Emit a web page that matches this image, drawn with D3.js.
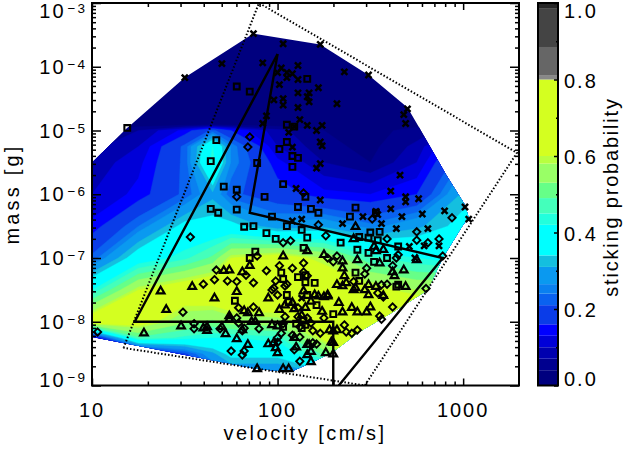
<!DOCTYPE html>
<html>
<head>
<meta charset="utf-8">
<script src="https://cdnjs.cloudflare.com/ajax/libs/d3/7.8.5/d3.min.js"></script>
<style>
body { margin:0; background:#fff; }
svg { display:block; }
text { font-family:"Liberation Sans", sans-serif; font-size:20px; letter-spacing:2px; fill:#000; }
</style>
</head>
<body>
<div id="chart-area"></div>
<script>
// all points are [log10 velocity, log10 mass]
var crosses = [[1.50,-4.17],[1.70,-3.95],[1.87,-3.48],[2.03,-3.64],[1.92,-3.94],[2.02,-4.02],[2.00,-4.09],[2.05,-4.09],[2.08,-4.11],[2.11,-3.98],[2.05,-4.17],[2.11,-4.20],[2.01,-4.28],[2.11,-4.41],[1.98,-4.52],[2.03,-4.50],[2.03,-4.60],[2.11,-4.64],[1.94,-4.77],[1.92,-4.89],[2.12,-4.83],[2.09,-4.94],[2.06,-5.03],[2.08,-5.26],[2.10,-5.91],[2.23,-3.65],[2.36,-4.08],[2.49,-4.13],[2.22,-4.33],[2.17,-4.41],[2.16,-4.47],[2.17,-4.55],[2.32,-4.58],[2.70,-4.66],[2.68,-4.75],[2.69,-4.89],[2.16,-4.92],[2.24,-4.92],[2.21,-5.00],[2.23,-5.18],[2.24,-5.24],[2.23,-5.52],[2.21,-5.59],[2.66,-5.70],[2.61,-5.95],[2.69,-6.04],[2.69,-6.12],[2.76,-6.07],[2.23,-6.09],[3.01,-6.20],[2.90,-6.26],[2.61,-6.23],[2.53,-6.27],[2.54,-6.32],[2.46,-6.35],[2.67,-6.35],[2.78,-6.31],[3.03,-6.39],[2.13,-6.39],[2.08,-6.42],[2.35,-6.46],[2.56,-6.46],[2.64,-6.54],[2.81,-6.54],[2.71,-6.82],[2.79,-6.81],[2.74,-7.00],[2.87,-6.81],[2.13,-7.63]];

var squares = [[1.19,-4.96],[1.78,-4.31],[1.85,-4.39],[2.05,-4.91],[2.09,-4.94],[1.67,-5.15],[2.05,-5.18],[2.01,-5.29],[2.08,-5.40],[2.11,-5.43],[1.64,-5.48],[1.89,-5.51],[2.08,-5.57],[2.03,-5.84],[1.71,-5.88],[1.78,-5.93],[1.93,-6.04],[1.64,-6.23],[1.68,-6.29],[1.78,-6.24],[2.11,-6.20],[1.97,-6.35],[2.16,-4.19],[2.15,-6.04],[2.18,-6.23],[2.22,-6.29],[2.42,-6.21],[2.39,-6.35],[2.53,-6.29],[2.05,-6.50],[1.82,-6.51],[1.87,-6.50],[1.94,-6.61],[1.99,-6.70],[1.88,-6.90],[1.85,-7.00],[2.13,-6.56],[2.16,-6.68],[2.14,-6.84],[2.02,-7.23],[2.03,-7.33],[2.11,-7.30],[2.15,-7.27],[1.77,-7.67],[2.05,-7.58],[2.16,-7.58],[2.06,-7.69],[2.15,-8.05],[2.13,-8.10],[2.34,-6.76],[2.44,-6.67],[2.49,-6.68],[2.50,-6.60],[2.54,-6.72],[2.55,-6.59],[2.65,-6.82],[2.59,-7.00],[2.43,-6.87],[2.52,-7.06],[2.44,-7.36],[2.65,-7.42],[2.42,-7.23],[2.20,-7.39],[2.15,-7.38],[2.49,-6.92],[2.64,-7.45],[2.21,-7.74],[2.30,-7.88],[2.03,-8.08],[2.14,-7.98],[2.10,-8.03]];

var diamonds = [[1.85,-5.10],[1.84,-5.26],[1.78,-6.04],[2.14,-5.98],[2.94,-6.37],[1.53,-6.67],[1.67,-7.19],[1.66,-7.34],[1.60,-7.41],[1.73,-7.36],[1.78,-7.37],[1.87,-7.39],[1.83,-7.27],[1.89,-6.97],[1.94,-7.20],[1.99,-7.36],[2.01,-7.12],[2.03,-6.76],[2.07,-6.73],[2.08,-7.16],[2.05,-7.41],[2.14,-7.08],[2.14,-7.22],[2.16,-7.28],[1.49,-7.85],[1.03,-8.16],[1.55,-8.03],[1.55,-8.11],[1.69,-8.11],[1.79,-7.78],[1.87,-7.77],[1.78,-7.94],[1.79,-8.02],[1.90,-8.11],[1.82,-8.10],[1.81,-8.14],[1.75,-8.46],[1.82,-8.46],[1.81,-8.52],[1.98,-7.47],[1.97,-7.50],[2.00,-7.58],[2.04,-7.92],[2.03,-8.03],[2.02,-8.18],[2.00,-8.25],[2.00,-8.32],[2.11,-7.92],[2.08,-8.21],[2.12,-8.62],[2.04,-7.44],[2.11,-7.78],[2.22,-6.48],[2.26,-6.65],[2.51,-6.39],[2.75,-6.59],[2.75,-6.72],[2.81,-6.76],[2.87,-6.70],[2.59,-6.70],[2.32,-6.97],[2.27,-7.00],[2.30,-7.06],[2.48,-7.16],[2.47,-7.25],[2.41,-7.37],[2.56,-7.42],[2.59,-7.41],[2.65,-6.95],[2.64,-7.00],[2.62,-7.12],[2.89,-6.97],[2.80,-7.48],[2.62,-7.77],[2.55,-7.91],[2.56,-7.96],[2.36,-8.05],[2.37,-8.16],[2.40,-8.18],[2.43,-8.13],[2.23,-8.18],[2.25,-7.94],[2.19,-8.33],[2.21,-8.35],[2.09,-8.44],[2.12,-8.24],[2.19,-8.14],[2.54,-7.55],[2.57,-7.61],[2.16,-7.94],[2.12,-8.08],[2.18,-8.02]];

var triangles = [[1.37,-7.52],[1.40,-7.81],[1.28,-8.18],[1.48,-8.07],[1.54,-7.45],[1.66,-7.63],[1.71,-7.20],[1.74,-7.19],[1.81,-7.22],[1.85,-7.12],[1.78,-7.53],[1.60,-8.10],[1.62,-8.08],[1.62,-8.14],[1.70,-8.08],[1.72,-8.19],[1.74,-7.91],[1.74,-7.96],[1.82,-7.83],[1.84,-7.86],[1.90,-7.86],[1.86,-8.00],[1.88,-8.00],[1.81,-8.13],[1.78,-8.27],[1.84,-8.36],[1.89,-8.74],[2.03,-8.74],[2.06,-8.74],[1.95,-7.63],[2.03,-6.97],[1.97,-8.05],[2.00,-8.07],[2.09,-8.25],[2.10,-8.40],[1.95,-8.35],[1.98,-8.33],[1.99,-8.41],[2.00,-8.49],[2.16,-8.36],[2.16,-8.52],[2.01,-7.81],[2.04,-7.74],[2.08,-7.70],[2.09,-7.80],[2.33,-7.70],[2.35,-7.85],[2.40,-7.78],[2.43,-7.85],[2.48,-7.85],[2.50,-7.77],[2.30,-8.33],[2.17,-8.36],[2.18,-8.47],[2.18,-8.63],[2.26,-8.49],[2.30,-8.51],[2.27,-7.58],[2.25,-7.61],[2.20,-7.58],[2.35,-7.44],[2.41,-7.50],[2.49,-7.58],[2.47,-7.50],[2.69,-7.45],[2.15,-7.78],[2.28,-8.13],[2.32,-8.13],[2.42,-6.51],[2.41,-6.70],[2.57,-6.87],[2.52,-6.82],[2.53,-6.89],[2.25,-6.95],[2.35,-7.05],[2.35,-7.16],[2.36,-7.28],[2.43,-7.03],[2.55,-7.08],[2.68,-7.19],[2.62,-7.22],[2.63,-7.28],[2.75,-7.03],[2.37,-7.39],[2.32,-7.42],[2.42,-7.47],[2.53,-7.45],[2.49,-7.42],[2.16,-6.89],[2.57,-7.59],[2.22,-7.60],[2.27,-7.60],[2.29,-8.32],[2.30,-8.15],[2.14,-7.52],[2.18,-7.68],[2.13,-7.90],[2.24,-7.84]];

// outline of the contoured area
var hull = [[1.00,-8.24],[1.89,-8.74],[2.07,-8.79],[2.19,-8.63],[2.30,-8.47],[2.44,-8.16],[2.62,-7.85],[2.81,-7.50],[2.89,-7.00],[3.00,-6.48],[3.03,-6.37],[3.01,-6.17],[2.91,-5.70],[2.77,-4.99],[2.70,-4.64],[2.49,-4.13],[2.23,-3.65],[1.87,-3.48],[1.50,-4.17],[1.19,-4.96],[1.00,-5.50]];

// solid and dotted boundaries
var solidA = [[2.00,-3.80],[1.23,-8.00],[2.30,-8.00],[2.30,-9.00]];
var solidB = [[2.00,-3.80],[1.85,-6.29],[2.89,-7.00],[2.33,-9.00]];
var dotted = [[1.17,-8.41],[1.90,-3.00],[3.29,-5.35],[2.47,-9.00],[1.17,-8.41]];

// sticking probability on a coarse irregular grid
var gridV = [1.0,1.25,1.5,1.65,1.75,2.0,2.25,2.5,2.75,3.0,3.25];
var gridM = [-3,-4,-4.9,-5,-5.25,-5.5,-6,-6.5,-7,-7.5,-8,-8.25,-8.5,-9];
var gridP = [
  .02,.02,.02,.02,.02,.02,.02,.02,.02,.02,.02,
  .02,.02,.02,.02,.02,.02,.02,.02,.02,.02,.02,
  .02,.02,.02,.02,.02,.02,.02,.02,.03,.04,.04,
  .04,.07,.14,.22,.16,.08,.04,.03,.05,.10,.10,
  .06,.10,.22,.42,.26,.10,.05,.03,.08,.20,.20,
  .08,.12,.22,.44,.26,.14,.07,.04,.10,.25,.25,
  .10,.14,.22,.30,.22,.18,.14,.13,.16,.32,.32,
  .14,.24,.36,.36,.36,.28,.30,.25,.30,.36,.36,
  .22,.38,.44,.50,.60,.64,.58,.46,.42,.38,.38,
  .42,.60,.66,.68,.70,.70,.68,.62,.58,.60,.60,
  .66,.64,.54,.52,.55,.56,.66,.70,.70,.70,.70,
  .10,.48,.44,.42,.42,.44,.62,.70,.70,.70,.70,
  .05,.05,.20,.30,.36,.36,.50,.70,.70,.70,.70,
  .05,.05,.10,.15,.20,.20,.20,.30,.50,.60,.60
];

var levels = [0,.04,.07,.10,.13,.16,.21,.24,.265,.31,.34,.42,.45,.49,.53,.58,.60,.80,.81,.885,.985];
var levelColors = ["#00007f","#00008f","#0000af","#0000d8","#0000ff","#0a3ce8","#0a62f0","#0a80f0","#0a99f0","#14bfdf","#00ffff","#22ffdd","#44ffbb","#66ff88","#99ff66","#b8ff40","#d4ff20","#888888","#666666","#444444","#262626"];

var xTicks = [10,100,1000];
var xMinor = [20,30,40,50,60,70,80,90,200,300,400,500,600,700,800,900];
var yExponents = [-3,-4,-5,-6,-7,-8,-9];
var barTicks = [0,.2,.4,.6,.8,1];
var barMinor = [.1,.3,.5,.7,.9];

var margin = { left:92, right:106, top:3, bottom:63.5 };
var width = 625 - margin.left - margin.right,
    height = 449 - margin.top - margin.bottom;

var svg = d3.select("#chart-area").append("svg")
    .attr("width", 625)
    .attr("height", 449);

var g = svg.append("g")
    .attr("transform", "translate(" + margin.left + "," + margin.top + ")");

var x = d3.scaleLog().domain([10, 2000]).range([0, width]);
var y = d3.scaleLog().domain([1e-9, 1e-3]).range([height, 0]);

function px(d) { return x(Math.pow(10, d[0])); }
function py(d) { return y(Math.pow(10, d[1])); }
var line = d3.line().x(px).y(py);

svg.append("defs").append("clipPath").attr("id", "hull")
    .append("path").attr("d", line(hull) + "Z");
svg.select("defs").append("clipPath").attr("id", "plot")
    .append("rect").attr("width", width).attr("height", height);

// filled contours, grid index mapped back to data through the irregular grid
var nx = gridV.length, ny = gridM.length;
var ix = d3.scaleLinear().domain(d3.range(nx)).range(gridV).clamp(true);
var iy = d3.scaleLinear().domain(d3.range(ny)).range(gridM).clamp(true);
var contours = d3.contours().size([nx, ny]).thresholds(levels.slice(0, 18))(gridP);
var toScreen = d3.geoTransform({
    point: function(a, b) {
        this.stream.point(x(Math.pow(10, ix(a - .5))), y(Math.pow(10, iy(b - .5))));
    }
});
g.append("g").attr("clip-path", "url(#hull)")
  .selectAll("path").data(contours).enter().append("path")
    .attr("d", d3.geoPath(toScreen))
    .attr("fill", function(d, i) { return levelColors[i]; })
    .attr("stroke", function(d, i) { return levelColors[i]; })
    .attr("stroke-width", .4);

var lines = g.append("g").attr("clip-path", "url(#plot)").attr("fill", "none").attr("stroke", "#000");
lines.append("path").attr("d", line(dotted)).attr("stroke-width", 2).attr("stroke-dasharray", "1.5 2");
lines.append("path").attr("d", line(solidA)).attr("stroke-width", 2.4);
lines.append("path").attr("d", line(solidB)).attr("stroke-width", 2.4);

function plotMarks(data, type, size, sw) {
    g.append("g").selectAll("path").data(data).enter().append("path")
        .attr("d", d3.symbol().type(type).size(size))
        .attr("transform", function(d) { return "translate(" + px(d) + "," + py(d) + ")"; })
        .attr("fill", "none")
        .attr("stroke", "#000")
        .attr("stroke-width", sw);
}
plotMarks(diamonds, d3.symbolDiamond2, 34, 1.9);
plotMarks(triangles, d3.symbolTriangle2, 42, 2.2);
plotMarks(squares, d3.symbolSquare2, 42, 2.1);
plotMarks(crosses, d3.symbolX, 26, 2.5);

// axes: majors and minors on all four sides
function styleAxis(sel, w) {
    sel.select(".domain").remove();
    sel.selectAll("line").attr("stroke", "#000").attr("stroke-width", w);
    sel.selectAll("text").remove();
}
var yTickVals = yExponents.map(function(e) { return Math.pow(10, e); });
var yMinor = [];
yExponents.slice(1).forEach(function(e) {
    [2,3,4,5,6,7,8,9].forEach(function(k) { yMinor.push(k * Math.pow(10, e)); });
});
var axes = [
    [d3.axisBottom(x).tickValues(xTicks).tickSize(-7), [0, height]],
    [d3.axisBottom(x).tickValues(xMinor).tickSize(-4), [0, height]],
    [d3.axisTop(x).tickValues(xTicks).tickSize(-7), [0, 0]],
    [d3.axisTop(x).tickValues(xMinor).tickSize(-4), [0, 0]],
    [d3.axisLeft(y).tickValues(yTickVals).tickSize(-9), [0, 0]],
    [d3.axisLeft(y).tickValues(yMinor).tickSize(-4), [0, 0]],
    [d3.axisRight(y).tickValues(yTickVals).tickSize(-9), [width, 0]],
    [d3.axisRight(y).tickValues(yMinor).tickSize(-4), [width, 0]]
];
axes.forEach(function(a) {
    g.append("g").attr("transform", "translate(" + a[1][0] + "," + a[1][1] + ")").call(a[0]).call(styleAxis, 1.5);
});
g.append("rect").attr("width", width).attr("height", height)
    .attr("fill", "none").attr("stroke", "#000").attr("stroke-width", 2);

// tick labels
g.selectAll(".xlab").data(xTicks).enter().append("text")
    .attr("x", x).attr("y", height + 31)
    .attr("text-anchor", "middle")
    .text(function(d) { return d; });

var ylab = g.selectAll(".ylab").data(yExponents).enter().append("text")
    .attr("text-anchor", "end")
    .attr("x", -5)
    .attr("y", function(e) { return Math.min(Math.max(y(Math.pow(10, e)) + 7, 14.5), height + 1); });
ylab.append("tspan").text("10");
ylab.append("tspan").attr("dy", -5).attr("dx", 2).style("font-size", "13.5px")
    .text(function(e) { return "\u2212" + Math.abs(e); });

g.append("text").attr("x", 213).attr("y", height + 54.5).attr("text-anchor", "middle")
    .style("letter-spacing", "2.5px")
    .text("velocity [cm/s]");
svg.append("text").attr("transform", "translate(19,194) rotate(-90)").attr("text-anchor", "middle")
    .style("letter-spacing", "3.2px")
    .text("mass [g]");

// colour bar
var bar = svg.append("g").attr("transform", "translate(538," + margin.top + ")");
var barW = 20;
var c = d3.scaleLinear().domain([0, 1]).range([height, 0]);
bar.selectAll("rect").data(levels).enter().append("rect")
    .attr("x", 0).attr("width", barW)
    .attr("y", function(d, i) { return c(i + 1 < levels.length ? levels[i + 1] : 1); })
    .attr("height", function(d, i) { return c(d) - c(i + 1 < levels.length ? levels[i + 1] : 1); })
    .attr("fill", function(d, i) { return levelColors[i]; });
bar.append("g").attr("transform", "translate(" + barW + ",0)")
    .call(d3.axisRight(c).tickValues(barTicks).tickSize(-4)).call(styleAxis, 1.5);
bar.append("g").attr("transform", "translate(" + barW + ",0)")
    .call(d3.axisRight(c).tickValues(barMinor).tickSize(-2)).call(styleAxis, 1.5);
bar.append("rect").attr("width", barW).attr("height", height)
    .attr("fill", "none").attr("stroke", "#000").attr("stroke-width", 2);
bar.selectAll(".blab").data(barTicks).enter().append("text")
    .attr("x", 26)
    .attr("y", function(d) { return Math.min(Math.max(c(d) + 8, 15), height); })
    .text(function(d) { return d3.format(".1f")(d); });
svg.append("text").attr("transform", "translate(618,197) rotate(-90)").attr("text-anchor", "middle")
    .style("letter-spacing", "1.8px")
    .text("sticking probability");
</script>
</body>
</html>
